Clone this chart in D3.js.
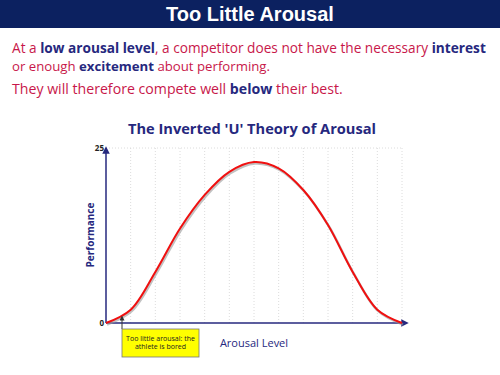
<!DOCTYPE html>
<html>
<head>
<meta charset="utf-8">
<script src="https://cdn.jsdelivr.net/npm/d3@7"></script>
<style>
  body { margin: 0; background: #fff; }
  svg { display: block; }
</style>
</head>
<body>
<div id="chart"></div>
<script>
// arousal level (0..12) and performance values
const arousal = [0, 1, 2, 3, 4, 5, 6, 7, 8, 9, 10, 11, 12];
const performance = [0, 1.9, 7.3, 13.5, 18.3, 21.6, 23.0, 22.1, 19.0, 14.0, 7.3, 1.9, 0];
const yTicks = [0, 25];

const navy = "#26287e";
const red = "#c8174a";

const svg = d3.select("#chart").append("svg")
  .attr("width", 500)
  .attr("height", 375)
  .style("font-family", "'Comic Sans MS', 'Open Sans', sans-serif");

// shrink/grow a text's font so it spans the given width
function fitWidth(sel, width, base) {
  const w = sel.node().getComputedTextLength();
  sel.style("font-size", (base * width / w).toFixed(2) + "px");
}

// header bar
svg.append("rect").attr("x", 0).attr("y", 0).attr("width", 500).attr("height", 28).attr("fill", "#0c2160");
svg.append("text")
  .attr("x", 250).attr("y", 21)
  .attr("text-anchor", "middle")
  .attr("fill", "#fff")
  .style("font-family", "'Liberation Sans', Arial, sans-serif")
  .style("font-weight", "bold")
  .style("font-size", "20px")
  .text("Too Little Arousal");

// intro text
const lines = [
  { y: 53, w: 474, parts: [["At a ", 0], ["low arousal level", 1], [", a competitor does not have the necessary ", 0], ["interest", 1]] },
  { y: 71, w: 258, parts: [["or enough ", 0], ["excitement", 1], [" about performing.", 0]] },
  { y: 94, w: 331, parts: [["They will therefore compete well ", 0], ["below", 1], [" their best.", 0]] }
];
lines.forEach(l => {
  const t = svg.append("text")
    .attr("x", 12).attr("y", l.y)
    .style("font-size", "14px");
  l.parts.forEach(p => {
    t.append("tspan")
      .attr("fill", p[1] ? navy : red)
      .style("font-weight", p[1] ? "bold" : "normal")
      .text(p[0]);
  });
  fitWidth(t, l.w, 14);
});

// chart title
svg.append("text")
  .attr("x", 252).attr("y", 134)
  .attr("text-anchor", "middle")
  .attr("fill", navy)
  .style("font-weight", "bold")
  .style("font-size", "13px")
  .text("The Inverted 'U' Theory of Arousal")
  .call(fitWidth, 248, 13);

const xScale = d3.scaleLinear().domain([0, 12]).range([106, 402]);
const yScale = d3.scaleLinear().domain([0, 25]).range([323, 148]);

// gridlines
svg.append("g")
  .selectAll("line")
  .data(arousal.slice(1))
  .enter()
  .append("line")
  .attr("x1", d => xScale(d)).attr("x2", d => xScale(d))
  .attr("y1", yScale(25)).attr("y2", yScale(0))
  .attr("stroke", "#dcdcdc")
  .attr("stroke-dasharray", "1,2");
svg.append("line")
  .attr("x1", xScale(0)).attr("x2", xScale(12))
  .attr("y1", yScale(25)).attr("y2", yScale(25))
  .attr("stroke", "#dcdcdc")
  .attr("stroke-dasharray", "1,2");

// arrowheads
const defs = svg.append("defs");
defs.append("marker")
  .attr("id", "arrow")
  .attr("viewBox", "0 0 10 10")
  .attr("refX", 5).attr("refY", 5)
  .attr("markerWidth", 5).attr("markerHeight", 5)
  .attr("orient", "auto")
  .append("path")
  .attr("d", "M0,0 L10,5 L0,10 z")
  .attr("fill", navy);
defs.append("marker")
  .attr("id", "smallArrow")
  .attr("viewBox", "0 0 10 10")
  .attr("refX", 5).attr("refY", 5)
  .attr("markerWidth", 5).attr("markerHeight", 5)
  .attr("orient", "auto")
  .append("path")
  .attr("d", "M0,0 L10,5 L0,10 z")
  .attr("fill", "#333");

// axes
svg.append("line")
  .attr("x1", xScale(0)).attr("y1", yScale(0))
  .attr("x2", xScale(0)).attr("y2", yScale(25) + 2)
  .attr("stroke", navy).attr("stroke-width", 1.5)
  .attr("marker-end", "url(#arrow)");
svg.append("line")
  .attr("x1", xScale(0)).attr("y1", yScale(0))
  .attr("x2", xScale(12) + 3).attr("y2", yScale(0))
  .attr("stroke", navy).attr("stroke-width", 1.5)
  .attr("marker-end", "url(#arrow)");

svg.append("g")
  .selectAll("text")
  .data(yTicks)
  .enter()
  .append("text")
  .attr("x", xScale(0) - 2)
  .attr("y", d => yScale(d) + 3)
  .attr("text-anchor", "end")
  .attr("fill", "#222")
  .style("font-size", "8px")
  .style("font-weight", "bold")
  .text(d => d);

// axis labels
svg.append("text")
  .attr("transform", "translate(94,235) rotate(-90)")
  .attr("text-anchor", "middle")
  .attr("fill", navy)
  .style("font-size", "10px")
  .style("font-weight", "bold")
  .text("Performance");
svg.append("text")
  .attr("x", 254).attr("y", 347)
  .attr("text-anchor", "middle")
  .attr("fill", navy)
  .style("font-size", "11px")
  .text("Arousal Level");

// curve with shadow
const line = d3.line()
  .x((d, i) => xScale(arousal[i]))
  .y(d => yScale(d))
  .curve(d3.curveCatmullRom.alpha(0.5));
svg.append("path")
  .datum(performance)
  .attr("d", line)
  .attr("fill", "none")
  .attr("stroke", "#999")
  .attr("stroke-opacity", 0.6)
  .attr("stroke-width", 2.5)
  .attr("transform", "translate(1,1.5)");
svg.append("path")
  .datum(performance)
  .attr("d", line)
  .attr("fill", "none")
  .attr("stroke", "#f01010")
  .attr("stroke-width", 2);

// annotation box
svg.append("line")
  .attr("x1", 122).attr("y1", 329)
  .attr("x2", 122).attr("y2", 318)
  .attr("stroke", "#333").attr("stroke-width", 1)
  .attr("marker-end", "url(#smallArrow)");
svg.append("rect")
  .attr("x", 122).attr("y", 329)
  .attr("width", 77).attr("height", 28)
  .attr("fill", "#ffff00")
  .attr("stroke", "#777")
  .attr("stroke-width", 0.8);
const note = svg.append("text")
  .attr("text-anchor", "middle")
  .attr("fill", "#222")
  .style("font-size", "7px");
note.append("tspan").attr("x", 160.5).attr("y", 341).text("Too little arousal: the");
note.append("tspan").attr("x", 160.5).attr("y", 349).text("athlete is bored");
</script>
</body>
</html>
